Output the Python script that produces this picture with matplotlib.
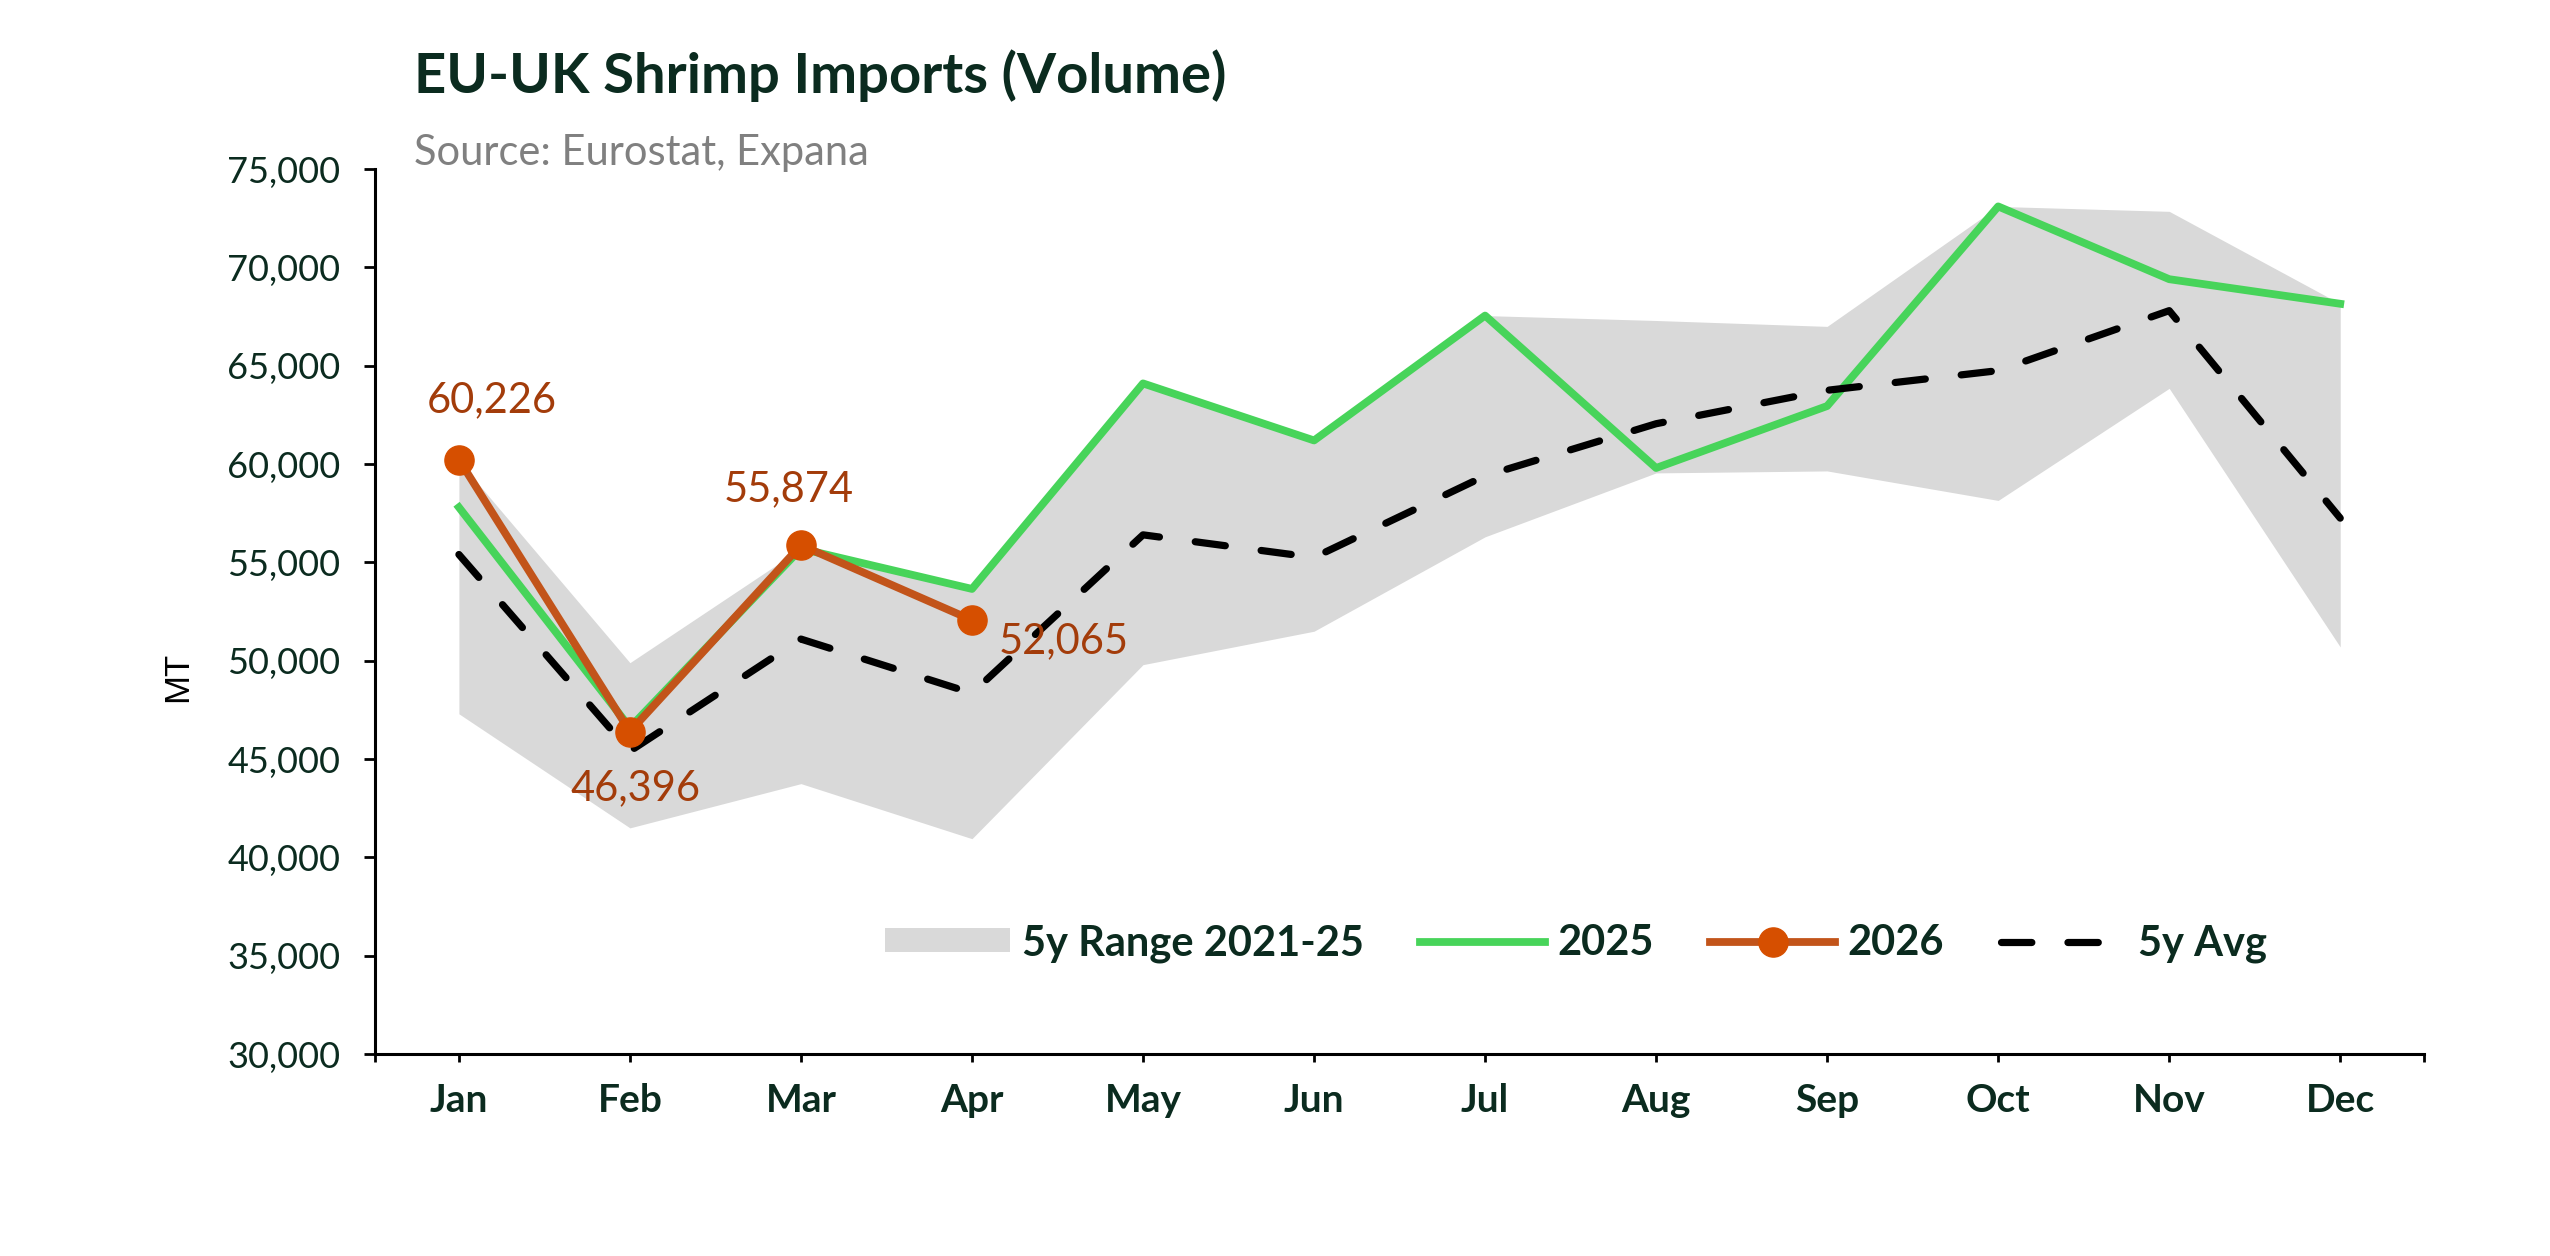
import matplotlib.pyplot as plt
from matplotlib.ticker import FuncFormatter

months = ["Jan", "Feb", "Mar", "Apr", "May", "Jun",
          "Jul", "Aug", "Sep", "Oct", "Nov", "Dec"]
vol_2025 = [57800, 46600, 55700, 53650, 64100, 61200,
            67550, 59800, 62950, 73100, 69400, 68150]
vol_2026 = [60226, 46396, 55874, 52065]
avg_5y = [55400, 45400, 51100, 48350, 56400, 55250,
          59400, 62050, 63750, 64750, 67800, 57250]
range_hi = [60150, 49900, 55700, 53650, 64100, 61200,
            67550, 67300, 67000, 73100, 72850, 68150]
range_lo = [47300, 41500, 43750, 40950, 49800, 51500,
            56300, 59550, 59650, 58150, 63850, 50700]

INK = "#0b2b1f"
GREEN = "#47d45a"
ORANGE = "#c2541a"
ORANGE_DOT = "#d64f00"
LABEL = "#a33c0a"
GREY = "#d9d9d9"

plt.rcParams["font.family"] = ["Lato", "DejaVu Sans"]

fig = plt.figure(figsize=(25.5, 12.56), dpi=100)
ax = fig.add_axes([0.1471, 0.1608, 0.8035, 0.7046])
x = list(range(len(months)))

ax.fill_between(x, range_lo, range_hi, color=GREY, lw=0,
                label="5y Range 2021-25", zorder=1)
ax.plot(x, vol_2025, color=GREEN, lw=5.6, label="2025", zorder=3)
ax.plot(x[:len(vol_2026)], vol_2026, color=ORANGE, lw=5.6, marker="o",
        ms=21, mfc=ORANGE_DOT, mec=ORANGE_DOT, label="2026", zorder=5)
ax.plot(x, avg_5y, color="black", lw=5.2, ls=(0, (4.2, 5)),
        dash_capstyle="round", label="5y Avg", zorder=4)

# point labels for 2026
offsets = [(24, 43, "center"), (4, -41, "center"),
           (-9, 40, "center"), (19, -15, "left")]
for i, (dx, dy, ha) in enumerate(offsets):
    ax.annotate("{:,}".format(vol_2026[i]), (x[i], vol_2026[i]),
                xytext=(dx, dy), textcoords="offset points",
                ha=ha, va="center", fontsize=30, color=LABEL, zorder=6)

ax.set_xlim(-0.49, 11.49)
ax.set_ylim(30000, 75000)
ax.set_yticks(range(30000, 75001, 5000))
ax.yaxis.set_major_formatter(FuncFormatter(lambda v, p: "{:,.0f}".format(v)))
ax.set_xticks(x)
ax.set_xticklabels(months, fontweight="bold")
ax.set_xticks([-0.49, 11.49], minor=True)

ax.tick_params(axis="y", labelsize=26, labelcolor=INK, length=8, width=2, pad=17)
ax.tick_params(axis="x", which="both", labelsize=28, labelcolor=INK,
               length=6, width=2, pad=15)

for side in ["top", "right"]:
    ax.spines[side].set_visible(False)
for side in ["left", "bottom"]:
    ax.spines[side].set_linewidth(2.2)

ax.legend(loc="center", bbox_to_anchor=(0.586, 0.125), ncol=4, frameon=False,
          prop={"size": 30, "weight": "bold"}, labelcolor=INK,
          handlelength=3.0, handleheight=0.5, handletextpad=0.3,
          columnspacing=1.35)

fig.text(414 / 2550, 1 - 93 / 1256, "EU-UK Shrimp Imports (Volume)",
         fontsize=40.5, fontweight="bold", color=INK, va="baseline")
fig.text(414 / 2550, 1 - 165 / 1256, "Source: Eurostat, Expana",
         fontsize=30, color="#808080", va="baseline")
fig.text(178 / 2550, 1 - 677 / 1256, "MT", rotation=90, ha="center",
         va="center", fontsize=25, family="Liberation Sans", color="black")

fig.savefig("out.png", dpi=100)
